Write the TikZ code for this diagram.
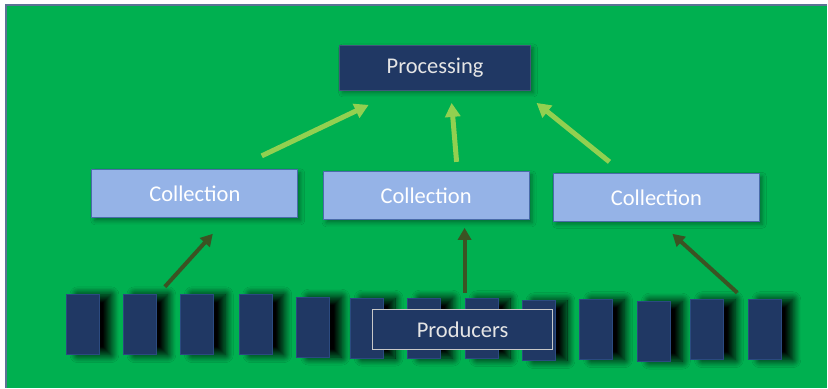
\documentclass[tikz,border=0pt]{standalone}
\usepackage{fontspec}
\setmainfont{Carlito}
\usetikzlibrary{arrows.meta,shadows.blur}
\definecolor{bg}{HTML}{00B050}
\definecolor{navy}{HTML}{203864}
\definecolor{lightblue}{HTML}{95B3E7}
\definecolor{boxedge}{HTML}{4A6BAA}
\definecolor{upgreen}{HTML}{92D050}
\definecolor{olive}{HTML}{3B5323}
\definecolor{framecol}{HTML}{5B7394}
\definecolor{labeledge}{HTML}{C8C8C8}
\definecolor{baredge}{HTML}{2B4A80}

\begin{document}
\begin{tikzpicture}[x=1pt,y=-1pt,
  lbl/.style={font=\fontsize{22.5}{26}\selectfont},
  procbox/.style={draw=navy!85!white, line width=0.8pt, fill=navy, text=white!90!black,
    minimum width=191pt, minimum height=45pt, inner sep=0pt, lbl,
    blur shadow={shadow xshift=3pt, shadow yshift=-3pt, shadow blur radius=4pt, shadow opacity=35}},
  collbox/.style={draw=boxedge, line width=0.9pt, fill=lightblue, text=white,
    minimum width=206pt, minimum height=48pt, inner sep=0pt, lbl,
    blur shadow={shadow xshift=3pt, shadow yshift=-3pt, shadow blur radius=4pt, shadow opacity=35}},
  prodbar/.style={fill=navy, draw=baredge, line width=0.5pt,
    minimum width=33pt, minimum height=60pt, inner sep=0pt,
    blur shadow={shadow xshift=12pt, shadow yshift=0pt, shadow scale=1, shadow blur radius=8pt, shadow blur steps=14, shadow opacity=100}},
  prodlabel/.style={draw=labeledge, line width=1.4pt, fill=navy, text=white!90!black,
    minimum width=180pt, minimum height=40pt, inner sep=0pt, lbl},
  uparrow/.style={draw=upgreen, line width=5pt, -{Triangle[length=14pt,width=15pt]}},
  feedarrow/.style={draw=olive, line width=4pt, -{Triangle[length=12pt,width=13pt]}}
]
% canvas and frame
\fill[white] (0,0) rectangle (828,388);
\fill[bg] (6,5) rectangle (828,388);
\draw[framecol, line width=1.5pt] (6,388) -- (6,5) -- (828,5);
\useasboundingbox (0,0) rectangle (828,388);

% top stage
\node[procbox] (proc) at (435.5,67.5) {Processing};

% collection stage
\node[collbox] (c1) at (195,194) {Collection};
\node[collbox] (c2) at (426.5,196) {Collection};
\node[collbox] (c3) at (657,197.5) {Collection};

% producer bars
\node[prodbar] (p1)  at (82.5,325)  {};
\node[prodbar] (p2)  at (139.5,325) {};
\node[prodbar] (p3)  at (197,325)   {};
\node[prodbar] (p4)  at (255.5,325) {};
\node[prodbar] (p5)  at (313.5,327.5) {};
\node[prodbar] (p6)  at (367,328.5) {};
\node[prodbar] (p7)  at (424.5,328.5) {};
\node[prodbar] (p8)  at (482,329)   {};
\node[prodbar] (p9)  at (539,331)   {};
\node[prodbar] (p10) at (596.5,330) {};
\node[prodbar] (p11) at (654.5,331.5) {};
\node[prodbar] (p12) at (707.5,330) {};
\node[prodbar] (p13) at (765,330)   {};

\node[prodlabel] (prod) at (463,330) {Producers};

% arrow end points
\coordinate (a1s) at (262,156);
\coordinate (a1e) at (369,105);
\coordinate (a2s) at (457,162);
\coordinate (a2e) at (452,103);
\coordinate (a3s) at (610,162);
\coordinate (a3e) at (537,103);
\coordinate (b1s) at (165,287);
\coordinate (b1e) at (213,234);
\coordinate (b2s) at (465,293);
\coordinate (b2e) at (465,228);
\coordinate (b3s) at (738,293);
\coordinate (b3e) at (673,234);

% collections feed processing
\draw[uparrow] (a1s) -- (a1e);
\draw[uparrow] (a2s) -- (a2e);
\draw[uparrow] (a3s) -- (a3e);

% producers feed collections
\draw[feedarrow] (b1s) -- (b1e);
\draw[feedarrow] (b2s) -- (b2e);
\draw[feedarrow] (b3s) -- (b3e);
\end{tikzpicture}
\end{document}
